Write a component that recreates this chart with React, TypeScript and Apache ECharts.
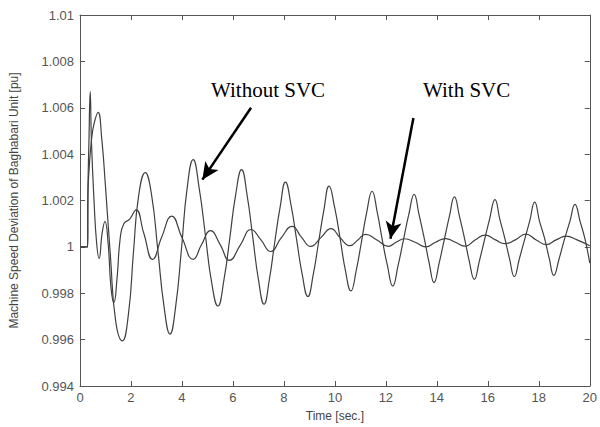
import React, { useEffect, useRef } from "react";
import * as echarts from "echarts";

// Without SVC (large oscillation)
const tWithout = [
  0, 0.3, 0.31, 0.36, 0.45, 0.55, 0.71, 0.85, 1.0, 1.2, 1.4, 1.66, 1.9, 2.1, 2.3, 2.56, 2.8, 3.05, 3.3, 3.53,
  3.75, 3.98, 4.2, 4.44, 4.68, 4.92, 5.16, 5.41, 5.65, 5.88, 6.1, 6.34, 6.56, 6.78, 7.0, 7.22, 7.43, 7.64, 7.85,
  8.06, 8.28, 8.5, 8.72, 8.94, 9.15, 9.36, 9.57, 9.77, 9.99, 10.2, 10.41, 10.63, 10.84, 11.04, 11.25, 11.46,
  11.66, 11.86, 12.06, 12.27, 12.48, 12.69, 12.9, 13.11, 13.3, 13.5, 13.7, 13.89, 14.09, 14.29, 14.49, 14.69,
  14.89, 15.08, 15.27, 15.47, 15.67, 15.87, 16.07, 16.28, 16.47, 16.66, 16.85, 17.04, 17.24, 17.44, 17.64,
  17.84, 18.03, 18.22, 18.41, 18.59, 18.8, 19.0, 19.22, 19.42, 19.62, 19.82, 20,
];
const vWithout = [
  1.0, 1.0, 1.0022, 1.0034, 1.0046, 1.0053, 1.0058, 1.0047, 1.0026, 0.9995, 0.9968, 0.99595, 0.9971, 0.9998,
  1.0022, 1.0032, 1.0023, 0.9999, 0.9974, 0.99624, 0.9974, 0.9999, 1.0025, 1.00376, 1.0025, 1.0005, 0.9985,
  0.99745, 0.9986, 1.0004, 1.0022, 1.00333, 1.0022, 1.0004, 0.9986, 0.99753, 0.9986, 1.0002, 1.0017, 1.00279,
  1.0018, 1.0003, 0.9988, 0.99786, 0.9988, 1.0002, 1.0016, 1.00262, 1.0017, 1.0004, 0.999, 0.9981, 0.999,
  1.0002, 1.0015, 1.0024, 1.0015, 1.0003, 0.9992, 0.99831, 0.9992, 1.0003, 1.0014, 1.00226, 1.0014, 1.0004,
  0.9993, 0.99846, 0.9993, 1.0003, 1.0013, 1.00216, 1.0013, 1.0004, 0.9994, 0.9986, 0.9994, 1.0003, 1.0012,
  1.00204, 1.0012, 1.0004, 0.9995, 0.99872, 0.9995, 1.0003, 1.0011, 1.00193, 1.0011, 1.0004, 0.9995, 0.99877,
  0.9995, 1.0003, 1.0011, 1.00183, 1.0011, 1.0003, 0.9993,
];

// With SVC (small oscillation)
const tWith = [
  0, 0.3, 0.31, 0.35, 0.4, 0.45, 0.55, 0.65, 0.75, 0.87, 0.98, 1.1, 1.22, 1.33, 1.45, 1.58, 1.72, 1.95, 2.2,
  2.5, 2.85, 3.2, 3.6, 4.0, 4.44, 4.77, 5.12, 5.5, 5.86, 6.3, 6.71, 7.1, 7.48, 7.9, 8.32, 8.7, 9.05, 9.45, 9.85,
  10.2, 10.59, 10.9, 11.2, 11.65, 12.1, 12.4, 12.73, 13.15, 13.57, 13.95, 14.34, 14.73, 15.12, 15.5, 15.9,
  16.3, 16.67, 17.08, 17.49, 17.9, 18.29, 18.68, 19.07, 19.5, 20,
];
const vWith = [
  1.0, 1.0, 1.0023, 1.0045, 1.0067, 1.0045, 1.002, 1.0002, 0.9995, 1.0006, 1.0011, 1.0002, 0.9982, 0.9976,
  0.9986, 1.0004, 1.001, 1.0012, 1.0016, 1.0006, 0.99946, 1.0004, 1.00133, 1.0004, 0.99946, 1.0001, 1.0007,
  1.0001, 0.99942, 1.0001, 1.00075, 1.0003, 0.9998, 1.0004, 1.00088, 1.0004, 1.00002, 1.0004, 1.00079, 1.0004,
  1.00005, 1.0003, 1.00054, 1.0003, 1.00002, 1.0002, 1.00035, 1.0002, 1.0, 1.0002, 1.00036, 1.0002, 1.00003,
  1.0003, 1.00051, 1.0003, 1.00014, 1.0003, 1.00055, 1.0003, 1.0001, 1.0003, 1.00046, 1.0003, 1.00005,
];

// Annotation arrows in data coordinates: [tail, tip]
const arrowWithout = [[6.71, 1.006], [4.8, 1.0029]];
const arrowWith = [[13.08, 1.00556], [12.18, 1.00035]];
const labelWithout = "Without SVC";
const labelWith = "With SVC";

export default function App() {
  const ref = useRef<HTMLDivElement>(null);
  useEffect(() => {
    document.body.style.margin = "0";
    const chart = echarts.init(ref.current!, null, { renderer: "svg" });
    const lineColor = "#404040";
    const axisColor = "#555";
    const fmt = (v: number) => String(parseFloat(v.toFixed(3)));
    chart.setOption({
      animation: false,
      backgroundColor: "#fff",
      grid: { left: 79, right: 6, top: 15, bottom: 40, containLabel: false },
      xAxis: [
        {
          type: "value",
          min: 0,
          max: 20,
          interval: 2,
          name: "Time [sec.]",
          nameLocation: "middle",
          nameGap: 24,
          nameTextStyle: { fontFamily: "Liberation Sans", fontSize: 12, color: "#444" },
          axisLine: { show: true, onZero: false, lineStyle: { color: axisColor, width: 1 } },
          axisTick: { show: true, inside: true, length: 5, lineStyle: { color: axisColor } },
          axisLabel: { fontFamily: "Liberation Sans", fontSize: 13, color: "#555", margin: 5 },
          splitLine: { show: false },
        },
        {
          type: "value",
          position: "top",
          min: 0,
          max: 20,
          interval: 2,
          axisLine: { show: true, onZero: false, lineStyle: { color: axisColor, width: 1 } },
          axisTick: { show: true, inside: true, length: 5, lineStyle: { color: axisColor } },
          axisLabel: { show: false },
          splitLine: { show: false },
        },
      ],
      yAxis: [
        {
          type: "value",
          min: 0.994,
          max: 1.01,
          interval: 0.002,
          name: "Machine Speed Deviation of Baghabari Unit [pu]",
          nameLocation: "middle",
          nameGap: 60,
          nameTextStyle: { fontFamily: "Liberation Sans", fontSize: 12, color: "#444" },
          axisLine: { show: true, onZero: false, lineStyle: { color: axisColor, width: 1 } },
          axisTick: { show: true, inside: true, length: 5, lineStyle: { color: axisColor } },
          axisLabel: { fontFamily: "Liberation Sans", fontSize: 13, color: "#555", margin: 6, formatter: fmt },
          splitLine: { show: false },
        },
        {
          type: "value",
          position: "right",
          min: 0.994,
          max: 1.01,
          interval: 0.002,
          axisLine: { show: true, onZero: false, lineStyle: { color: axisColor, width: 1 } },
          axisTick: { show: true, inside: true, length: 5, lineStyle: { color: axisColor } },
          axisLabel: { show: false },
          splitLine: { show: false },
        },
      ],
      series: [
        {
          name: labelWithout,
          type: "line",
          data: tWithout.map((t, i) => [t, vWithout[i]]),
          smooth: 0.5,
          showSymbol: false,
          lineStyle: { color: lineColor, width: 1.2 },
          z: 3,
          markLine: {
            silent: true,
            symbol: ["none", "arrow"],
            symbolSize: [12, 17],
            label: { show: false },
            lineStyle: { color: "#000", width: 2.5, type: "solid" },
            data: [
              [
                { coord: arrowWithout[0] },
                { coord: arrowWithout[1] },
              ],
              [
                { coord: arrowWith[0] },
                { coord: arrowWith[1] },
              ],
            ],
          },
        },
        {
          name: labelWith,
          type: "line",
          data: tWith.map((t, i) => [t, vWith[i]]),
          smooth: 0.5,
          showSymbol: false,
          lineStyle: { color: lineColor, width: 1.2 },
          z: 3,
        },
      ],
      graphic: [
        {
          type: "text",
          left: 211,
          top: 79,
          style: { text: labelWithout, font: "21px 'Liberation Serif'", fill: "#000" },
        },
        {
          type: "text",
          left: 423,
          top: 79,
          style: { text: labelWith, font: "21px 'Liberation Serif'", fill: "#000" },
        },
      ],
    });
    return () => chart.dispose();
  }, []);
  return <div ref={ref} style={{ width: 600, height: 427 }} />;
}
